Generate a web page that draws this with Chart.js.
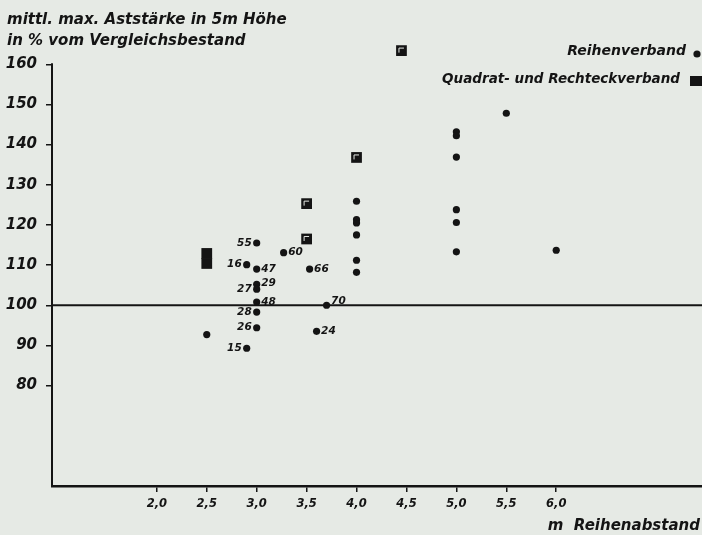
<!DOCTYPE html>
<html>
<head>
<meta charset="utf-8">
<script src="https://cdn.jsdelivr.net/npm/chart.js@4.4.1/dist/chart.umd.min.js"></script>
<style>
  html, body { margin: 0; padding: 0; background: #e6eae5; }
  #wrap { width: 702px; height: 535px; }
</style>
</head>
<body>
<div id="wrap"><canvas id="chart" width="702" height="535"></canvas></div>
<script>
// Reihenverband: row spacing (m) and relative branch thickness (%)
const rowX = [2.5, 2.9, 2.9, 3.0, 3.0, 3.0, 3.0, 3.0, 3.0, 3.0, 3.27, 3.53, 3.6, 3.7,
              4.0, 4.0, 4.0, 4.0, 4.0, 4.0,
              5.0, 5.0, 5.0, 5.0, 5.0, 5.0,
              5.5, 6.0];
const rowY = [92.7, 110.1, 89.3, 115.5, 109.0, 105.2, 104.0, 100.8, 98.3, 94.4, 113.1, 109.0, 93.5, 100.0,
              125.9, 121.3, 120.5, 117.5, 111.2, 108.2,
              143.2, 142.2, 136.9, 123.8, 120.6, 113.3,
              147.8, 113.7];
const rowTags = ['', '16', '15', '55', '47', '29', '27', '48', '28', '26', '60', '66', '24', '70',
                 '', '', '', '', '', '',
                 '', '', '', '', '', '',
                 '', ''];

// Quadrat- und Rechteckverband
const squareX = [2.5, 2.5, 3.5, 3.5, 4.0, 4.45];
const squareY = [112.9, 110.4, 125.3, 116.5, 136.8, 163.4];

// Axis ticks
const xTickValues = [2.0, 2.5, 3.0, 3.5, 4.0, 4.5, 5.0, 5.5, 6.0];
const xTickLabels = ['2,0', '2,5', '3,0', '3,5', '4,0', '4,5', '5,0', '5,5', '6,0'];
const yTickValues = [80, 90, 100, 110, 120, 130, 140, 150, 160];
const yTickLabels = ['80', '90', '100', '110', '120', '130', '140', '150', '160'];

const referenceLevel = 100;
const yAxisTop = 160;

const titleLines = ['mittl. max. Aststärke in 5m Höhe', 'in % vom Vergleichsbestand'];
const xTitle = 'm  Reihenabstand';
const legendRow = 'Reihenverband';
const legendSquare = 'Quadrat- und Rechteckverband';

// which side of its dot each number is written on
const tagSide = { '55': 'L', '16': 'L', '27': 'L', '28': 'L', '26': 'L', '15': 'L',
                  '47': 'R', '29': 'R', '48': 'R', '60': 'R', '66': 'R', '70': 'R', '24': 'R' };
const tagLift = { '70': -4, '29': -1 };

const INK = '#141414';
const BG = '#e6eae5';
const FONT = "'DejaVu Sans', sans-serif";

const rowPoints = rowX.map((x, i) => ({ x, y: rowY[i] }));
const squarePoints = squareX.map((x, i) => ({ x, y: squareY[i] }));

// axes reach the canvas edges: no extra room for end labels
function noEdgePadding(scale) {
  scale.paddingTop = 0;
  scale.paddingBottom = 0;
  scale.paddingLeft = 0;
  scale.paddingRight = 0;
}

const paperPlugin = {
  id: 'paper',
  beforeDraw(chart) {
    const c = chart.ctx;
    c.save();
    c.fillStyle = BG;
    c.fillRect(0, 0, chart.width, chart.height);
    c.restore();
  }
};

// vertical axis line (stops at the top tick) and the 100 % reference line
const linesPlugin = {
  id: 'lines',
  beforeDatasetsDraw(chart) {
    const { ctx: c, chartArea, scales } = chart;
    const y100 = scales.y.getPixelForValue(referenceLevel);
    const yTop = scales.y.getPixelForValue(yAxisTop);
    c.save();
    c.strokeStyle = INK;
    c.lineWidth = 2;
    c.beginPath();
    c.moveTo(chartArea.left, y100);
    c.lineTo(chart.width, y100);
    c.stroke();
    c.beginPath();
    c.moveTo(chartArea.left, yTop - 1);
    c.lineTo(chartArea.left, chartArea.bottom);
    c.stroke();
    c.restore();
  }
};

const textPlugin = {
  id: 'texts',
  afterDatasetsDraw(chart) {
    const c = chart.ctx;
    c.save();
    c.fillStyle = INK;

    // axis title (y)
    c.font = `italic bold 15px ${FONT}`;
    c.textAlign = 'left';
    c.textBaseline = 'middle';
    c.fillText(titleLines[0], 7, 20);
    c.fillText(titleLines[1], 7, 41);

    // axis title (x)
    c.font = `italic bold 15px ${FONT}`;
    c.textAlign = 'right';
    c.fillText(xTitle, 700, 526);

    // legend
    c.font = `italic bold 14px ${FONT}`;
    c.textAlign = 'right';
    c.fillText(legendRow, 686, 51);
    c.save();
    c.translate(680, 79);
    c.scale(0.965, 1);
    c.fillText(legendSquare, 0, 0);
    c.restore();
    Chart.helpers.drawPoint(c, { pointStyle: 'circle', radius: 3.6, borderWidth: 0 }, 697, 54);
    c.fillRect(690, 76, 12, 10);

    // numbers beside the dots
    const meta = chart.getDatasetMeta(0);
    c.font = `italic 600 10.5px ${FONT}`;
    meta.data.forEach((pt, i) => {
      const tag = rowTags[i];
      if (!tag) return;
      const side = tagSide[tag] || 'R';
      const lift = tagLift[tag] || 0;
      c.textAlign = side === 'L' ? 'right' : 'left';
      c.fillText(tag, pt.x + (side === 'L' ? -5 : 4.5), pt.y + lift);
    });

    // light inner corner on the square markers
    const sq = chart.getDatasetMeta(1);
    c.strokeStyle = BG;
    c.lineWidth = 1;
    sq.data.forEach((pt, i) => {
      if (i < 2) return;
      c.beginPath();
      c.moveTo(pt.x - 2.5, pt.y + 2);
      c.lineTo(pt.x - 2.5, pt.y - 2.5);
      c.lineTo(pt.x + 2.5, pt.y - 2.5);
      c.stroke();
    });
    c.restore();
  }
};

new Chart(document.getElementById('chart'), {
  type: 'scatter',
  data: {
    datasets: [
      {
        label: legendRow,
        data: rowPoints,
        pointStyle: 'circle',
        pointRadius: 3.6,
        backgroundColor: INK,
        borderColor: INK,
        borderWidth: 0
      },
      {
        label: legendSquare,
        data: squarePoints,
        pointStyle: 'rect',
        pointRadius: 7.6,
        backgroundColor: INK,
        borderColor: INK,
        borderWidth: 0
      }
    ]
  },
  options: {
    responsive: false,
    animation: false,
    devicePixelRatio: 1,
    layout: { autoPadding: false, padding: { left: 0, right: 0, top: 0, bottom: 0 } },
    plugins: { legend: { display: false }, tooltip: { enabled: false } },
    scales: {
      x: {
        type: 'linear',
        min: 0.95,
        max: 7.46,
        afterFit(scale) { scale.height = 49; noEdgePadding(scale); },
        afterBuildTicks(scale) { scale.ticks = xTickValues.map(v => ({ value: v })); },
        ticks: {
          autoSkip: false,
          maxRotation: 0,
          padding: 5,
          color: INK,
          font: { family: FONT, size: 11.5, style: 'italic', weight: '600' },
          callback: (v) => xTickLabels[xTickValues.indexOf(v)]
        },
        grid: { drawOnChartArea: false, tickLength: 6, color: INK, lineWidth: 1.5 },
        border: { display: true, color: INK, width: 2.5 }
      },
      y: {
        type: 'linear',
        min: 55,
        max: 176,
        afterFit(scale) { scale.width = 52; noEdgePadding(scale); },
        afterBuildTicks(scale) { scale.ticks = yTickValues.map(v => ({ value: v })); },
        ticks: {
          autoSkip: false,
          padding: 9,
          color: INK,
          font: { family: FONT, size: 15, style: 'italic', weight: 'bold' },
          callback: (v) => yTickLabels[yTickValues.indexOf(v)]
        },
        grid: { drawOnChartArea: false, tickLength: 6, color: INK, lineWidth: 1.5 },
        border: { display: false }
      }
    }
  },
  plugins: [paperPlugin, linesPlugin, textPlugin]
});
</script>
</body>
</html>
